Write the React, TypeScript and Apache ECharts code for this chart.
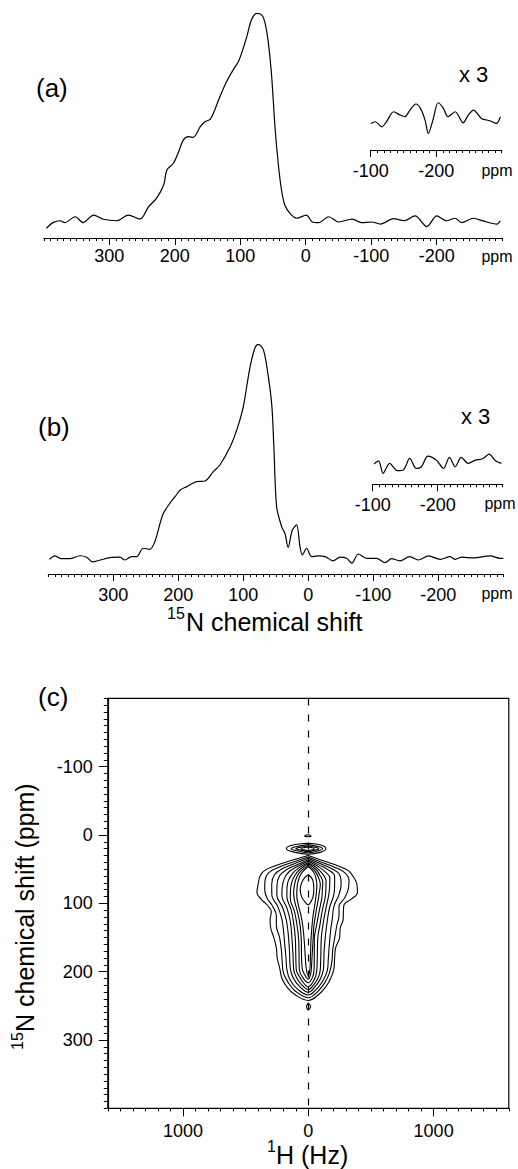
import { useEffect, useRef } from 'react'
import * as echarts from 'echarts'

const FONT = '"Liberation Sans", Arial, Helvetica, sans-serif'
const INK = '#000'

// (a) 15N spectrum, [ppm, intensity] with the tallest peak = 100
const spectrumA: [number, number][] = [
  [396, -3], [386, -0.3], [375, 0.6], [368, -0.3], [352, 2.5], [340, -0.3], [324, 3.3], [309, 1.3],
  [289, 0.6], [271, 3.3], [253, 1.4], [240, 7.3], [228, 11.3], [217, 17.7], [212, 24.9], [202, 28.1],
  [195, 32.9], [187, 39.2], [179, 40.8], [172, 40.5], [161, 45.6], [154, 48], [146, 49.1], [139, 53.6],
  [131, 60], [121, 67.1], [111, 72.7], [103, 76.7], [98, 80.7], [90, 88.7], [83, 96.7], [75, 99.8],
  [67, 99], [62, 95], [57, 85.5], [52, 69.5], [47, 45.6], [42, 28], [37, 15.3], [32, 8.1], [24, 4.1],
  [14, 1.8], [-1, 3.3], [-10, 0], [-20, -0.3], [-35, 2.5], [-50, 0], [-71, 1.4], [-85, -0.3],
  [-101, 0], [-114, -1], [-134, 1.6], [-150, 0.6], [-167, 2.9], [-185, -2.2], [-200, 2.9],
  [-215, 0.6], [-228, 1.8], [-238, -0.3], [-256, 1.8], [-271, 0.5], [-292, -1], [-297, 0.6],
]

// (a) x3 inset, -100 .. -300 ppm
const insetA: [number, number][] = [
  [-100, -3.2], [-107, -2.4], [-117, -4.8], [-124, -2.4], [-135, 2.4], [-145, 0.8], [-152, 0],
  [-160, 3.2], [-169, 6.1], [-176, 4], [-183, -1.6], [-188, -8], [-195, -1.6], [-203, 6.7],
  [-211, 4], [-218, 0], [-229, 2.4], [-241, -2.9], [-249, 0.8], [-257, 3.2], [-269, -0.8],
  [-282, -1.9], [-292, -3.2], [-298, 0],
]

// (b) 15N spectrum
const spectrumB: [number, number][] = [
  [398, -0.5], [390, 1.1], [380, -0.2], [367, -0.2], [351, 1.2], [341, 0.5], [332, -1.7], [320, -0.8],
  [305, 0.3], [290, 0.5], [282, -0.8], [272, 0.8], [264, 0.8], [254, 4.7], [244, 4.2], [236, 7.8],
  [228, 16.4], [223, 21], [213, 25.7], [205, 28.8], [197, 31.9], [187, 33.5], [172, 35.8], [159, 36.1],
  [146, 40.5], [136, 43.6], [120, 52.2], [110, 60], [100, 70.9], [90, 88.8], [82, 98.4], [77, 100],
  [69, 97.4], [61.5, 84.9], [56, 70.9], [53, 52.2], [48.7, 24.1], [41, 14.8], [36, 11.7], [31, 5.1],
  [24.6, 13.2], [18, 15.6], [12.8, 5.5], [9.2, 1.6], [2.6, 4.7], [-5, 0.8], [-15, 1.1], [-26, 0.8],
  [-38, -1.2], [-49, 0.5], [-59, 0], [-67, -2.3], [-77, 2], [-90, 0], [-105, 0], [-118, -2],
  [-128, -0.2], [-141, -1.2], [-156, 0.8], [-169, -0.8], [-185, 1.1], [-203, -0.5], [-218, 0.8],
  [-226, -0.5], [-236, 0.5], [-254, 0.2], [-280, 1.1], [-295, 0], [-300, 0],
]

// (b) x3 inset
const insetB: [number, number][] = [
  [-102, 0.5], [-109, 1.9], [-116, -3.9], [-126, 0.8], [-138, -2.6], [-147, -2.3], [-157, 3.1],
  [-167, -1.6], [-175, -0.8], [-185, 4.2], [-198, 2.3], [-209, -1.6], [-218, 3.6], [-227, -0.8],
  [-236, 3.6], [-247, 0.8], [-258, 2.3], [-269, 2.9], [-279, 5.1], [-289, 2], [-298, 0.8],
]

const shiftLabels = [300, 200, 100, 0, -100, -200]
const insetLabels = [-100, -200]
const hzLabels = [-1000, 0, 1000]
const ppmLabelsC = [-100, 0, 100, 200, 300]

// (c) contour levels, outer to inner: top / bottom ppm on the 0 Hz line,
// rows are [ppm, left edge Hz, right edge Hz]
type Contour = { top: number; bottom: number; rows: [number, number, number][] }
const contours: Contour[] = [
  { top: 30, bottom: 242, rows: [[38, -150, 125], [45, -265, 235], [52, -350, 320], [60, -385, 355], [72, -400, 388], [84, -410, 392], [94, -375, 340], [102, -330, 285], [112, -295, 280], [124, -305, 278], [136, -300, 255], [150, -275, 250], [165, -255, 218], [180, -248, 210], [195, -228, 205], [210, -210, 178], [222, -172, 140], [233, -110, 85]] },
  { top: 32, bottom: 238, rows: [[40, -130, 110], [47, -235, 210], [55, -315, 290], [66, -345, 325], [80, -348, 318], [92, -330, 290], [104, -285, 245], [118, -255, 245], [132, -255, 228], [150, -229, 211], [168, -215, 195], [186, -208, 188], [202, -198, 168], [216, -160, 132], [229, -100, 75]] },
  { top: 34, bottom: 234, rows: [[42, -112, 98], [49, -205, 185], [58, -270, 250], [72, -292, 262], [88, -291, 243], [104, -245, 205], [122, -212, 192], [140, -198, 178], [160, -188, 168], [180, -178, 160], [198, -170, 152], [212, -145, 120], [225, -88, 68]] },
  { top: 36, bottom: 230, rows: [[44, -98, 88], [51, -178, 160], [60, -230, 210], [74, -250, 210], [88, -251, 203], [106, -205, 170], [125, -175, 152], [145, -160, 138], [170, -150, 126], [195, -144, 122], [210, -118, 98], [221, -72, 58]] },
  { top: 38, bottom: 226, rows: [[46, -86, 78], [53, -150, 130], [63, -190, 172], [76, -208, 170], [88, -211, 163], [108, -168, 140], [128, -142, 120], [150, -131, 104], [175, -122, 100], [198, -116, 95], [209, -92, 78], [218, -58, 48]] },
  { top: 40, bottom: 222, rows: [[48, -76, 68], [56, -125, 110], [67, -160, 142], [78, -170, 140], [90, -171, 136], [110, -136, 112], [130, -116, 94], [150, -104, 76], [175, -100, 72], [197, -96, 68], [207, -72, 58], [215, -44, 38]] },
  { top: 42, bottom: 216, rows: [[50, -66, 60], [58, -104, 90], [69, -132, 116], [80, -142, 112], [92, -144, 108], [112, -110, 86], [132, -90, 66], [152, -77, 48], [176, -74, 48], [196, -72, 46], [207, -50, 36]] },
  { top: 44, bottom: 211, rows: [[52, -56, 50], [60, -88, 76], [72, -110, 96], [84, -117, 88], [96, -110, 78], [114, -84, 60], [134, -64, 44], [154, -56, 38], [178, -54, 30], [196, -48, 24], [204, -30, 18]] },
  { top: 46, bottom: 206, rows: [[54, -46, 42], [62, -72, 60], [74, -88, 68], [88, -92, 62], [102, -80, 52], [118, -58, 38], [136, -42, 28], [156, -32, 21], [178, -24, 17], [196, -16, 13]] },
  { top: 58, bottom: 102, rows: [[63, -32, 28], [71, -56, 42], [80, -64, 44], [90, -54, 38], [97, -30, 22]] },
  // small peak near 20 ppm
  { top: 12, bottom: 28, rows: [[15, -130, 105], [20, -175, 140], [25, -115, 100]] },
  { top: 14, bottom: 26, rows: [[17, -100, 85], [20, -138, 115], [23, -90, 80]] },
  { top: 16, bottom: 24, rows: [[18, -68, 60], [20, -100, 85], [22, -62, 55]] },
  { top: 17.5, bottom: 22.5, rows: [[20, -58, 48]] },
  { top: -0.5, bottom: 2.5, rows: [[1, -30, 22]] },
  { top: 246, bottom: 256, rows: [[251, -14, 18]] },
]

function outline(c: Contour): [number, number][] {
  const left = c.rows.map(([p, l]) => [l, p] as [number, number])
  const right = c.rows.slice().reverse().map(([p, , r]) => [r, p] as [number, number])
  return [[0, c.top], ...left, [0, c.bottom], ...right, [0, c.top]]
}

const tickLine = { lineStyle: { color: INK, width: 1 } }
const labelFont = { color: INK, fontSize: 18, fontFamily: FONT }
const noLine = { show: false, onZero: false }

function shiftAxes(gridIndex: number, min: number, max: number, labels: number[], margin: number) {
  return [
    {
      gridIndex, type: 'value', min, max, inverse: true, position: 'bottom',
      axisLine: { onZero: false, lineStyle: { color: INK, width: 1.2 } },
      axisTick: { customValues: labels, length: 7, ...tickLine },
      axisLabel: { customValues: labels, margin, ...labelFont },
      splitLine: { show: false },
    },
    {
      gridIndex, type: 'value', min, max, interval: 10, inverse: true, position: 'bottom',
      axisLine: noLine,
      axisTick: { length: 3, ...tickLine },
      axisLabel: { show: false },
      splitLine: { show: false },
    },
  ]
}

function hiddenY(gridIndex: number, min: number, max: number) {
  return { gridIndex, type: 'value', min, max, show: false }
}

function trace(data: [number, number][], xAxisIndex: number, yAxisIndex: number, width = 1.2) {
  return {
    type: 'line', data, xAxisIndex, yAxisIndex, symbol: 'none', smooth: 0.3, silent: true,
    lineStyle: { color: INK, width },
  }
}

function txt(x: number, y: number, text: string, size: number, align = 'left') {
  return {
    type: 'text', x, y, silent: true,
    style: {
      text, fill: INK, fontSize: size, fontFamily: FONT,
      align, verticalAlign: 'middle', textAlign: align, textVerticalAlign: 'middle',
    },
  }
}

export default function App() {
  const ref = useRef<HTMLDivElement>(null)

  useEffect(() => {
    if (!ref.current) return
    const chart = echarts.init(ref.current, null, { renderer: 'svg' })

    const contourSeries = contours.map((c, i) => ({
      ...trace(outline(c), 8, 4, 1.1),
      smooth: 0.4,
      markLine: i === 0 ? {
        silent: true, symbol: ['none', 'none'], label: { show: false },
        lineStyle: { color: INK, width: 1.2, type: [7, 9] },
        data: [{ xAxis: 0 }],
      } : undefined,
    }))

    chart.setOption({
      animation: false,
      grid: [
        { left: 43.8, top: 13, width: 458.4, height: 225 },
        { left: 370.7, top: 95, width: 131, height: 55 },
        { left: 48.3, top: 344.3, width: 455, height: 229.7 },
        { left: 372.7, top: 445, width: 130, height: 39.3 },
        { left: 107.8, top: 698.4, width: 401, height: 410, show: true, borderColor: INK, borderWidth: 1.2 },
      ],
      xAxis: [
        ...shiftAxes(0, -300, 400, shiftLabels, 9),
        ...shiftAxes(1, -300, -100, insetLabels, 12),
        ...shiftAxes(2, -300, 400, shiftLabels, 12),
        ...shiftAxes(3, -300, -100, insetLabels, 12),
        {
          gridIndex: 4, type: 'value', min: -1600, max: 1600, position: 'bottom',
          axisLine: { onZero: false, lineStyle: { color: INK, width: 1.2 } },
          axisTick: { customValues: hzLabels, length: 8, ...tickLine },
          axisLabel: { customValues: hzLabels, margin: 14, formatter: (v: number) => String(Math.abs(v)), ...labelFont },
          splitLine: { show: false },
        },
        {
          gridIndex: 4, type: 'value', min: -1600, max: 1600, interval: 100, position: 'bottom',
          axisLine: noLine, axisTick: { length: 3, ...tickLine },
          axisLabel: { show: false }, splitLine: { show: false },
        },
      ],
      yAxis: [
        hiddenY(0, -7.66, 100),
        hiddenY(1, -15.9, 10.4),
        hiddenY(2, -7.34, 100),
        hiddenY(3, -9, 9.35),
        {
          gridIndex: 4, type: 'value', min: -200, max: 400, inverse: true, position: 'left',
          axisLine: { onZero: false, lineStyle: { color: INK, width: 1.2 } },
          axisTick: { customValues: ppmLabelsC, length: 9, ...tickLine },
          axisLabel: { customValues: ppmLabelsC, margin: 15, ...labelFont },
          splitLine: { show: false },
        },
        {
          gridIndex: 4, type: 'value', min: -200, max: 400, interval: 10, inverse: true, position: 'left',
          axisLine: noLine, axisTick: { length: 4, ...tickLine },
          axisLabel: { show: false }, splitLine: { show: false },
        },
      ],
      series: [
        trace(spectrumA, 0, 0),
        trace(insetA, 2, 1),
        trace(spectrumB, 4, 2),
        trace(insetB, 6, 3),
        ...contourSeries,
      ],
      graphic: [
        txt(36, 88, '(a)', 26),
        txt(459, 74, 'x 3', 22),
        txt(497, 256, 'ppm', 16, 'center'),
        txt(497, 170, 'ppm', 16, 'center'),
        txt(38, 427, '(b)', 26),
        txt(461, 416, 'x 3', 22),
        txt(497, 593, 'ppm', 16, 'center'),
        txt(500, 503, 'ppm', 16, 'center'),
        txt(167, 613, '15', 16),
        txt(186, 622, 'N chemical shift', 25),
        txt(38, 697, '(c)', 26),
        txt(267, 1146, '1', 16),
        txt(276, 1155, 'H (Hz)', 25),
        {
          type: 'group', x: 25, y: 1050, rotation: Math.PI / 2,
          children: [txt(0, -8, '15', 16), txt(18, 0, 'N chemical shift (ppm)', 25)],
        },
      ],
    })

    return () => chart.dispose()
  }, [])

  return <div ref={ref} style={{ position: 'fixed', left: 0, top: 0, width: 518, height: 1169, background: '#fff' }} />
}
